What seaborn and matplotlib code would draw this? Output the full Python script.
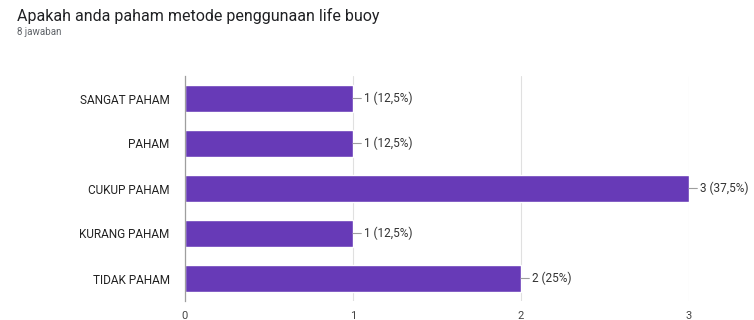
import matplotlib
matplotlib.use("Agg")
import matplotlib.pyplot as plt
import seaborn as sns
import pandas as pd

# Survey responses
categories = ["SANGAT PAHAM", "PAHAM", "CUKUP PAHAM", "KURANG PAHAM", "TIDAK PAHAM"]
counts = [1, 1, 3, 1, 2]
value_labels = ["1 (12,5%)", "1 (12,5%)", "3 (37,5%)", "1 (12,5%)", "2 (25%)"]
x_ticks = [0, 1, 2, 3]
title = "Apakah anda paham metode penggunaan life buoy"
subtitle = "8 jawaban"

sns.set_theme(style="white")
plt.rcParams["font.family"] = ["Roboto", "DejaVu Sans"]

df = pd.DataFrame({"kategori": categories, "jumlah": counts})

W, H = 754, 320
fig = plt.figure(figsize=(W / 100, H / 100), dpi=100)
left, right, top, bottom = 185, 689, 76, 301
ax = fig.add_axes([left / W, 1 - bottom / H, (right - left) / W, (bottom - top) / H])

sns.barplot(data=df, x="jumlah", y="kategori", order=categories,
            color="#673ab7", saturation=1, width=0.6, ax=ax)

ax.set_xlim(0, 3)
ax.set_ylim(4.5, -0.5)
ax.set_xticks(x_ticks)
ax.set_xticklabels([str(t) for t in x_ticks], fontsize=8, color="#444444")
ax.tick_params(axis="y", labelsize=8.5, labelcolor="#222222", length=0, pad=11)
ax.tick_params(axis="x", length=0, pad=7)
ax.set_xlabel("")
ax.set_ylabel("")
ax.grid(axis="x", color="#e0e0e0", linewidth=0.8)
ax.set_axisbelow(True)
for side in ["top", "right", "bottom"]:
    ax.spines[side].set_visible(False)
ax.spines["left"].set_color("#9e9e9e")
ax.spines["left"].set_linewidth(0.9)

# value annotations with short leader lines
for i, (v, lab) in enumerate(zip(counts, value_labels)):
    ax.annotate("", xy=(v, i), xytext=(6, 0), textcoords="offset points",
                arrowprops=dict(arrowstyle="-", color="#9e9e9e", lw=0.8,
                                shrinkA=0, shrinkB=0), annotation_clip=False)
    ax.annotate(lab, xy=(v, i), xytext=(8, 0), textcoords="offset points",
                va="center", ha="left", fontsize=8.5, color="#333333",
                annotation_clip=False)

fig.text(17 / W, 1 - 16 / H, title, fontsize=11.5, color="#202124",
         va="center", ha="left")
fig.text(17 / W, 1 - 32 / H, subtitle, fontsize=7, color="#5f6368",
         va="center", ha="left")

fig.savefig("out.png", dpi=100)
